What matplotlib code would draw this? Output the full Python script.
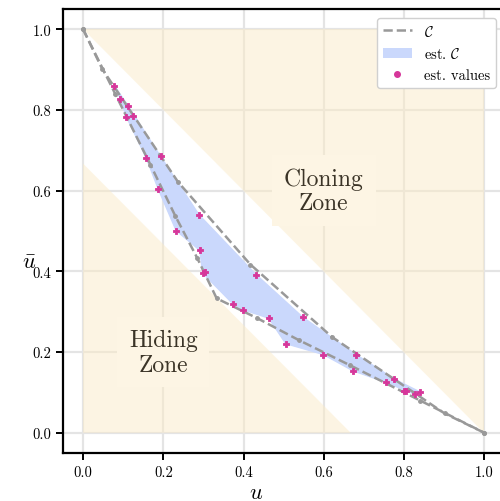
import matplotlib
matplotlib.use("Agg")
import matplotlib.pyplot as plt
from matplotlib.patches import Polygon, Patch
from matplotlib.lines import Line2D

# ---- data ----
ticks = [0.0, 0.2, 0.4, 0.6, 0.8, 1.0]

# theoretical C boundaries
upper_u = [0.0, 0.048, 0.237, 0.417, 0.621, 0.901, 1.0]
upper_v = [1.0, 0.901, 0.621, 0.417, 0.237, 0.048, 0.0]
lower_u = [0.0, 0.08, 0.168, 0.230, 0.284, 0.333, 0.434, 0.537, 0.664, 0.84, 1.0]
lower_v = [1.0, 0.84, 0.664, 0.537, 0.434, 0.333, 0.284, 0.230, 0.168, 0.08, 0.0]

# estimated values
est_u = [0.078, 0.093, 0.112, 0.108, 0.124, 0.158, 0.193, 0.187, 0.289, 0.232,
         0.291, 0.298, 0.305, 0.373, 0.399, 0.431, 0.463, 0.548, 0.505, 0.599,
         0.680, 0.672, 0.776, 0.755, 0.799, 0.805, 0.828, 0.840]
est_v = [0.860, 0.828, 0.810, 0.783, 0.784, 0.680, 0.685, 0.605, 0.540, 0.501,
         0.452, 0.396, 0.398, 0.320, 0.305, 0.392, 0.284, 0.286, 0.221, 0.194,
         0.194, 0.154, 0.133, 0.125, 0.103, 0.104, 0.095, 0.101]

# estimated C region (polygon outline)
hull_u = [0.078, 0.112, 0.193, 0.289, 0.431, 0.548, 0.680, 0.776, 0.840,
          0.828, 0.755, 0.672, 0.599, 0.505, 0.463, 0.399, 0.373, 0.298,
          0.291, 0.232, 0.187, 0.158, 0.108, 0.093]
hull_v = [0.860, 0.810, 0.685, 0.540, 0.392, 0.286, 0.194, 0.133, 0.101,
          0.095, 0.125, 0.154, 0.194, 0.221, 0.284, 0.305, 0.320, 0.396,
          0.452, 0.501, 0.605, 0.680, 0.783, 0.828]

# zones
clone_u = [0.0, 1.0, 1.0]
clone_v = [1.0, 1.0, 0.0]
hide_u = [0.0, 0.0, 0.667]
hide_v = [0.0, 0.667, 0.0]

# ---- style ----
plt.rcParams['font.family'] = 'serif'
plt.rcParams['font.serif'] = ['cmr10', 'DejaVu Serif']
plt.rcParams['mathtext.fontset'] = 'cm'
plt.rcParams['axes.formatter.use_mathtext'] = True

fig = plt.figure(figsize=(5.0, 5.02), dpi=100)
ax = fig.add_axes([63/500, 48/502, 441.4/500, 444/502])

ax.set_xlim(-0.05, 1.05)
ax.set_ylim(-0.05, 1.05)
ax.set_xticks(ticks)
ax.set_yticks(ticks)
ax.set_xticklabels([f"{t:.1f}" for t in ticks])
ax.set_yticklabels([f"{t:.1f}" for t in ticks])
ax.grid(True, color='#e4e4e4', linewidth=1.6, zorder=0)
ax.set_axisbelow(True)

zone_color = '#fbebc8'
ax.add_patch(Polygon(list(zip(clone_u, clone_v)), closed=True, facecolor=zone_color,
                     alpha=0.5, edgecolor='none', zorder=1))
ax.add_patch(Polygon(list(zip(hide_u, hide_v)), closed=True, facecolor=zone_color,
                     alpha=0.5, edgecolor='none', zorder=1))

blue = '#cad8fc'
ax.fill(hull_u, hull_v, color=blue, zorder=2)

grey = '#999999'
ax.plot(upper_u, upper_v, linestyle='--', color=grey, lw=1.8, marker='o', ms=2.5,
        zorder=3)
ax.plot(lower_u, lower_v, linestyle='--', color=grey, lw=1.8, marker='o', ms=2.5,
        zorder=3)

pink = '#d6369a'
ax.scatter(est_u, est_v, marker='P', s=22, color=pink, edgecolors=pink,
           linewidths=0.6, zorder=4)

box = dict(boxstyle='square,pad=0.5', facecolor='#fdf5e4', edgecolor='none')
ax.text(0.6, 0.6, "Cloning\nZone", ha='center', va='center', fontsize=17,
        color='#3b3427', linespacing=1.15, bbox=box, zorder=5)
ax.text(0.2, 0.2, "Hiding\nZone", ha='center', va='center', fontsize=17,
        color='#3b3427', linespacing=1.15, bbox=box, zorder=5)

handles = [Line2D([], [], linestyle='--', color=grey, lw=1.8),
           Patch(facecolor=blue, edgecolor='none'),
           Line2D([], [], linestyle='none', marker='o', ms=4, color=pink)]
labels = [r'$\mathcal{C}$', r'est. $\mathcal{C}$', 'est. values']
leg = ax.legend(handles, labels, loc='upper right',
                fontsize=10.5, frameon=True, fancybox=True, framealpha=1.0,
                edgecolor='#d0d0d0', borderaxespad=0.6)
leg.set_zorder(10)

for s in ax.spines.values():
    s.set_color('black')
    s.set_linewidth(1.6)
ax.tick_params(direction='out', length=5, width=1.4, labelsize=10.5, colors='black')

ax.set_xlabel(r'$u$', fontsize=16, va='center')
ax.set_ylabel(r'$\bar{u}$', fontsize=16, rotation=0, va='center', ha='center')
ax.xaxis.set_label_coords(0.437, -0.088)
ax.yaxis.set_label_coords(-0.076, 0.43)

fig.savefig('out.png', dpi=100)
